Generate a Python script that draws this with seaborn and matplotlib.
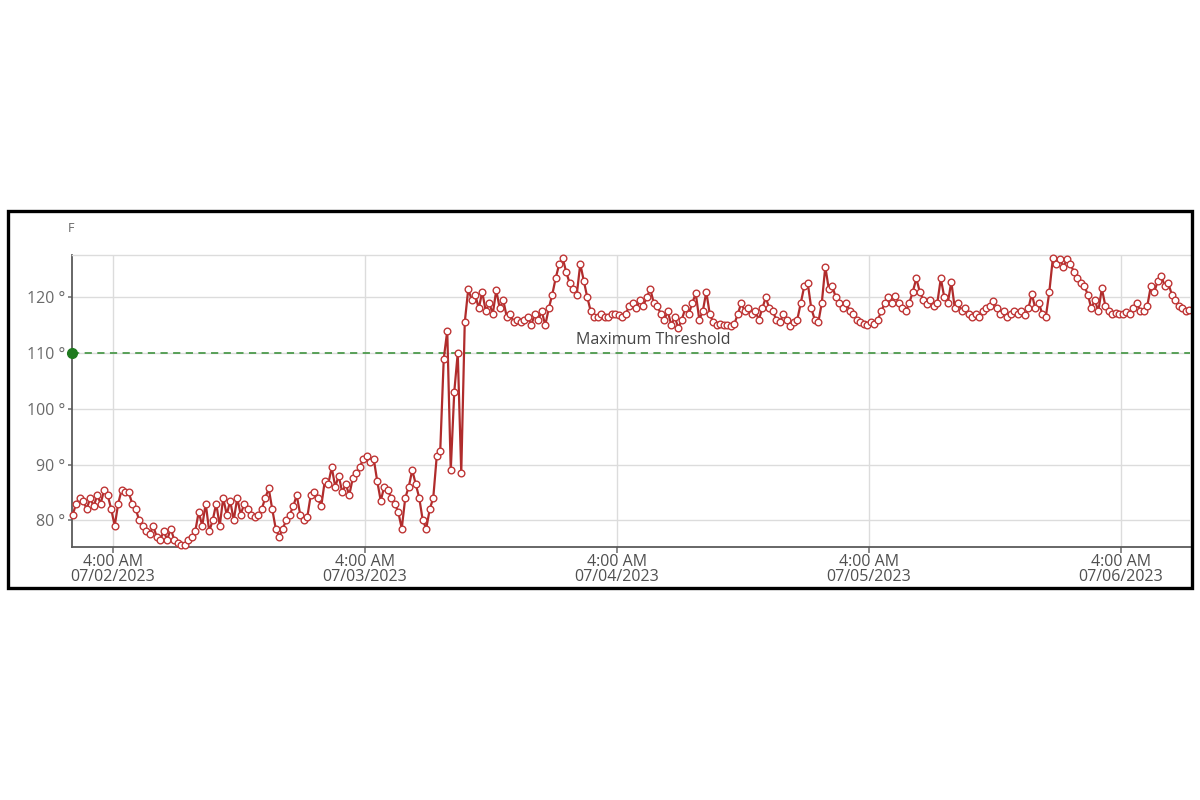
import pandas as pd
import numpy as np
import matplotlib.pyplot as plt
import matplotlib.dates as mdates
import matplotlib.transforms as mtransforms
from matplotlib.patches import Rectangle
from matplotlib.ticker import FuncFormatter
import seaborn as sns

# Datos (lectura cada 20 minutos desde 07/02/2023 00:10)
START_TIME = '2023-07-02 00:10'
STEP = '20min'
temps = [
    81, 83, 84, 83.5, 82, 84, 82.5, 84.5, 83, 85.5,
    84.5, 82, 79, 83, 85.5, 85, 85, 83, 82, 80,
    79, 78, 77.5, 79, 77, 76.5, 78, 76.5, 78.5, 76.5,
    76, 75.5, 75.5, 76.5, 77, 78, 81.5, 79, 83, 78,
    80, 83, 79, 84, 81, 83.5, 80, 84, 81, 83,
    82, 81, 80.5, 81, 82, 84, 85.7, 82, 78.5, 77,
    78.5, 80, 81, 82.5, 84.5, 81, 80, 80.5, 84.5, 85,
    84, 82.5, 87, 86.5, 89.5, 86, 88, 85, 86.5, 84.5,
    87.5, 88.5, 89.5, 91, 91.5, 90.5, 91, 87, 83.5, 86,
    85.5, 84, 83, 81.5, 78.5, 84, 86, 89, 86.5, 84,
    80, 78.5, 82, 84, 91.5, 92.5, 109, 114, 89, 103,
    110, 88.5, 115.5, 121.5, 119.5, 120.5, 118, 121, 117.5, 119,
    117, 121.3, 118, 119.5, 116.5, 117, 115.5, 116, 115.5, 116,
    116.5, 115, 117, 116, 117.5, 115, 118, 120.5, 123.5, 126,
    127, 124.5, 122.5, 121.5, 120.5, 126, 123, 120, 117.5, 116.5,
    116.5, 117, 116.5, 116.5, 117, 117, 116.8, 116.5, 117, 118.5,
    119, 118, 119.5, 118.5, 120, 121.5, 119, 118.5, 117, 116,
    117.5, 115, 116.5, 114.5, 116, 118, 117, 119, 120.7, 116,
    117.5, 121, 117, 115.5, 115, 115.3, 115, 115, 114.8, 115.2,
    117, 119, 117.5, 118, 117, 117.5, 116, 118, 120, 118,
    117.5, 116, 115.5, 117, 116, 114.8, 115.5, 116, 119, 122,
    122.5, 118, 116, 115.5, 119, 125.5, 121.5, 122, 120, 119,
    118, 119, 117.5, 117, 116, 115.5, 115.2, 115, 115.5, 115.3,
    116, 117.5, 119, 120, 119, 120.3, 119, 118, 117.5, 119,
    121, 123.4, 121, 119.5, 118.8, 119.5, 118.5, 119, 123.4, 120,
    119, 122.8, 118, 119, 117.5, 118, 117, 116.5, 117, 116.5,
    117.5, 118, 118.5, 119.4, 118, 117, 117.5, 116.5, 117, 117.5,
    117, 117.5, 116.8, 118, 120.6, 118, 119, 117, 116.5, 121,
    127, 126, 126.8, 125.5, 126.8, 126, 124.6, 123.5, 122.5, 122,
    120.5, 118, 119.5, 117.5, 121.6, 118.5, 117.5, 117, 117.2, 117,
    117, 117.3, 117, 118, 119, 117.5, 117.5, 118.5, 122, 121,
    123, 123.8, 122, 122.5, 120.5, 119.5, 118.5, 118, 117.5, 117.8,
]
y_ticks = [80, 90, 100, 110, 120]
threshold = 110
threshold_label = 'Maximum Threshold'
unit_label = 'F'

times = pd.date_range(START_TIME, periods=len(temps), freq=STEP)
df = pd.DataFrame({'time': times, 'temp': temps})

sns.set_theme(style='white')
plt.rcParams['font.family'] = ['Open Sans', 'DejaVu Sans']

fig = plt.figure(figsize=(12, 8), dpi=100)
ax = fig.add_axes([0.06, 0.31625, 0.9317, 0.365])

# marco negro exterior
fig.patches.append(Rectangle((0.0067, 0.265), 0.9866, 0.4715, transform=fig.transFigure,
                             fill=False, edgecolor='black', linewidth=2.4))

ax.axhline(threshold, color='#4d9a4d', linestyle=(0, (4, 3)), linewidth=1.3, zorder=2)

sns.lineplot(data=df, x='time', y='temp', ax=ax, color='#b02c2c', linewidth=1.6,
             marker='o', markersize=4.8, markerfacecolor='white',
             markeredgecolor='#bf3636', markeredgewidth=1.0, zorder=3, clip_on=False)

blend = mtransforms.blended_transform_factory(ax.transAxes, ax.transData)
ax.plot([0], [threshold], 'o', color='#1f7a1f', markersize=7, transform=blend,
        clip_on=False, zorder=5)
ax.text(0.451, threshold + 2.3, threshold_label, transform=blend, fontsize=11.5,
        color='#444444', va='center', ha='left')

ax.text(-0.001, 1.092, unit_label, transform=ax.transAxes, fontsize=9,
        color='#666666', ha='center', va='center')

pad = pd.Timedelta(minutes=4)
ax.set_xlim(times[0] - pad, times[-1] + pad)
ax.set_ylim(75.2, 127.6)

ax.set_yticks(y_ticks)
ax.yaxis.set_major_formatter(FuncFormatter(lambda v, p: f'{v:.0f} °'))
ax.xaxis.set_major_locator(mdates.HourLocator(byhour=[4]))
ax.xaxis.set_major_formatter(mdates.DateFormatter('%-I:%M %p\n%m/%d/%Y'))

ax.grid(True, color='#dcdcdc', linewidth=1.0)
ax.set_axisbelow(True)
ax.set_xlabel('')
ax.set_ylabel('')

ax.spines['right'].set_visible(False)
ax.spines['top'].set_color('#dcdcdc')
ax.spines['top'].set_linewidth(1.0)
for side in ['left', 'bottom']:
    ax.spines[side].set_color('#5a5a5a')
    ax.spines[side].set_linewidth(1.3)

ax.tick_params(axis='x', length=4, width=1.2, color='#777777', pad=1,
               labelsize=11.5, labelcolor='#505050', bottom=True)
ax.tick_params(axis='y', length=3, width=1.2, color='#777777', pad=2,
               labelsize=11.5, labelcolor='#6a6a6a', left=True)

fig.canvas.draw()
for lab in ax.get_xticklabels():
    lab.set_linespacing(0.95)

fig.savefig('out.png', dpi=100, facecolor='white')
plt.close(fig)
